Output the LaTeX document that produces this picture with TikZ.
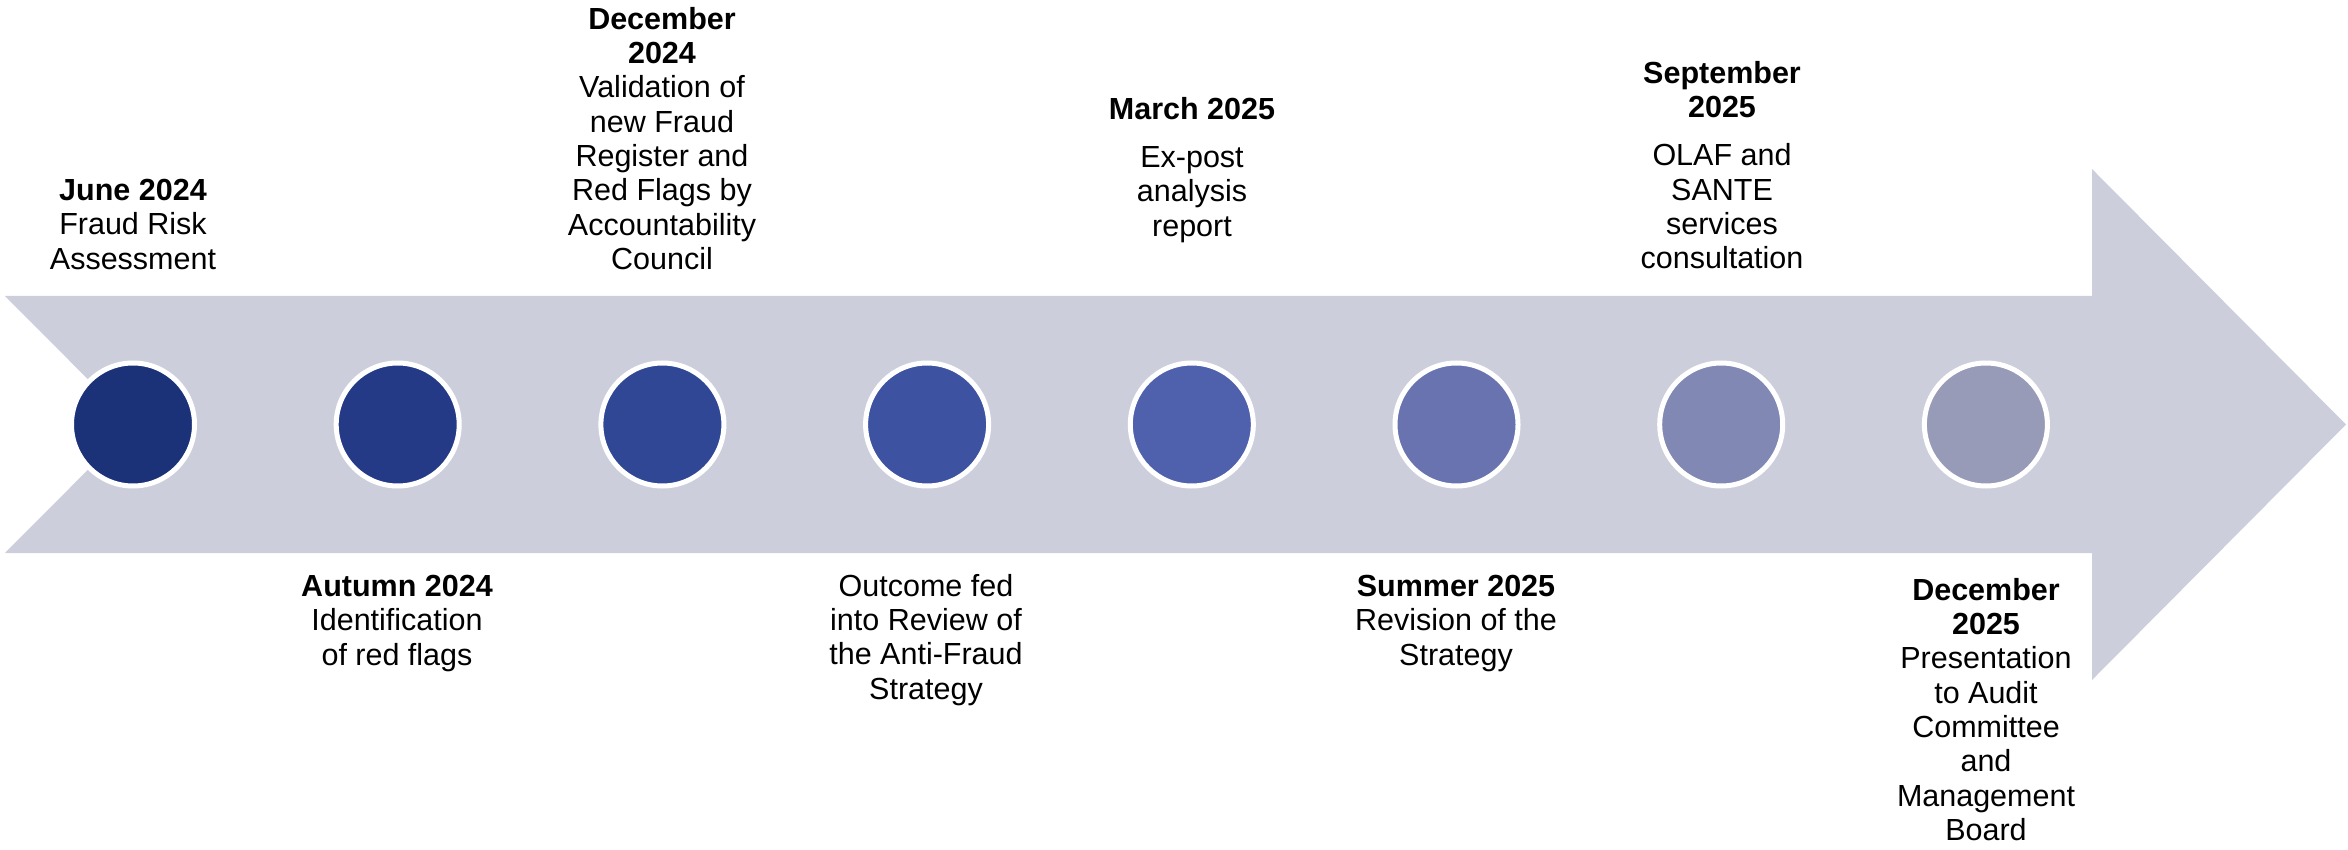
\documentclass[tikz,border=0pt]{standalone}
\usepackage{fontspec}
\setmainfont{Liberation Sans}
\usepackage{tikz}
\usetikzlibrary{calc}

\definecolor{shaftgray}{HTML}{CCCEDB}
\definecolor{stepA}{HTML}{1B3279}
\definecolor{stepB}{HTML}{243A87}
\definecolor{stepC}{HTML}{2F4795}
\definecolor{stepD}{HTML}{3D52A1}
\definecolor{stepE}{HTML}{4F60AD}
\definecolor{stepF}{HTML}{6873B0}
\definecolor{stepG}{HTML}{8088B3}
\definecolor{stepH}{HTML}{989BB7}

\tikzset{
	milestone/.style={circle, draw=white, line width=5pt, minimum size=123pt, inner sep=0pt},
	caption/.style={align=center, inner sep=0pt, font=\fontsize{30.5}{34.3}\selectfont},
}

\begin{document}
\begin{tikzpicture}[x=1pt,y=-1pt]
	\newcommand{\shaftTop}{296}
	\newcommand{\shaftBottom}{553}
	\newcommand{\midLine}{424.5}
	\newcommand{\headBase}{2092}
	\newcommand{\gapAfterTitle}{14pt}

	\useasboundingbox (0,0) rectangle (2348,850);

	% arrow body with notched tail
	\fill[shaftgray] (5,\shaftTop) -- (\headBase,\shaftTop) -- (\headBase,169)
		-- (2346,\midLine) -- (\headBase,680) -- (\headBase,\shaftBottom)
		-- (5,\shaftBottom) -- (133,\midLine) -- cycle;

	% milestones
	\node[milestone, fill=stepA] (jun24) at (133,\midLine) {};
	\node[milestone, fill=stepB] (aut24) at (397.7,\midLine) {};
	\node[milestone, fill=stepC] (dec24) at (662.4,\midLine) {};
	\node[milestone, fill=stepD] (review) at (927.1,\midLine) {};
	\node[milestone, fill=stepE] (mar25) at (1191.8,\midLine) {};
	\node[milestone, fill=stepF] (sum25) at (1456.5,\midLine) {};
	\node[milestone, fill=stepG] (sep25) at (1721.2,\midLine) {};
	\node[milestone, fill=stepH] (dec25) at (1985.9,\midLine) {};

	% captions above the arrow
	\node[caption, anchor=north] (jun24txt) at (133,179)
		{\textbf{June 2024}\\Fraud Risk\\Assessment};
	\node[caption, anchor=north] (dec24txt) at (662,7)
		{\textbf{December}\\\textbf{2024}\\Validation of\\new Fraud\\Register and\\Red Flags by\\Accountability\\Council};
	\node[caption, anchor=north] (mar25txt) at (1192,97)
		{\textbf{March 2025}\\[\gapAfterTitle]Ex-post\\analysis\\report};
	\node[caption, anchor=north] (sep25txt) at (1722,61)
		{\textbf{September}\\\textbf{2025}\\[\gapAfterTitle]OLAF and\\SANTE\\services\\consultation};

	% captions below the arrow
	\node[caption, anchor=north] (aut24txt) at (397,575)
		{\textbf{Autumn 2024}\\Identification\\of red flags};
	\node[caption, anchor=north] (reviewtxt) at (926,574)
		{Outcome fed\\into Review of\\the Anti-Fraud\\Strategy};
	\node[caption, anchor=north] (sum25txt) at (1456,575)
		{\textbf{Summer 2025}\\Revision of the\\Strategy};
	\node[caption, anchor=north] (dec25txt) at (1986,578)
		{\textbf{December}\\\textbf{2025}\\Presentation\\to Audit\\Committee\\and\\Management\\Board};
\end{tikzpicture}
\end{document}
